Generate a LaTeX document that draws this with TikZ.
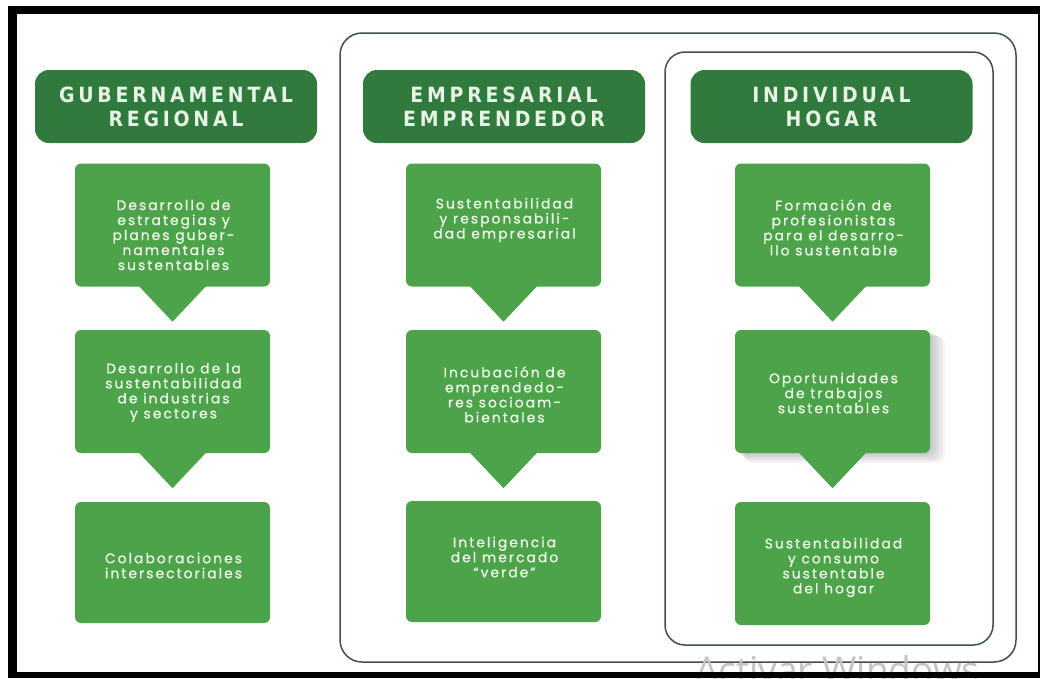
\documentclass[tikz,border=0pt]{standalone}
\usepackage{fontspec}
\setmainfont{Poppins}
\newfontfamily\headfont[LetterSpace=18]{DejaVu Sans Condensed Bold}
\newfontfamily\bodyfont[LetterSpace=15, FakeBold=1]{Poppins}
\newfontfamily\wmfont{Open Sans}
\usetikzlibrary{calc}
\definecolor{hdgreen}{RGB}{47,122,60}
\definecolor{cardgreen}{RGB}{76,163,74}
\definecolor{hdtext}{RGB}{232,243,230}
\definecolor{cardtext}{RGB}{236,247,232}
\definecolor{framecol}{RGB}{62,82,68}
\definecolor{wmgray}{RGB}{196,196,196}
\begin{document}
\begin{tikzpicture}[x=1pt,y=-1pt,
  header/.style={fill=hdgreen, rounded corners=14pt, minimum width=282pt, minimum height=73pt,
    inner sep=0pt, text=hdtext, align=center, font=\headfont\fontsize{21}{24}\selectfont},
  card/.style={fill=cardgreen, rounded corners=6pt, minimum width=195pt, minimum height=123pt, inner sep=0pt},
  cardtext/.style={text=cardtext, align=center, font=\bodyfont\fontsize{13.8}{15}\selectfont, inner sep=0pt},
  pointer/.style={fill=cardgreen},
  frameline/.style={draw=framecol, line width=1.5pt}]
\useasboundingbox (0,0) rectangle (1040,678);
\fill[white] (0,0) rectangle (1040,678);

% frames
\draw[frameline, rounded corners=22pt] (340,33) rectangle (1016,662);
\draw[frameline, rounded corners=20pt] (665,52) rectangle (993,645);

% headers
\node[header] (h1) at (176,106.5) {GUBERNAMENTAL\\REGIONAL};
\node[header] (h2) at (504,106.5) {EMPRESARIAL\\EMPRENDEDOR};
\node[header] (h3) at (831.5,106.5) {INDIVIDUAL\\HOGAR};

% shadow for right middle card
\foreach \s in {2,4,6,8,10} {
  \fill[black, opacity=0.045, rounded corners=8pt] (735+\s,330+\s*0.6) rectangle (930+\s*1.5,453+\s);
}

% cards
\node[card] (a1) at (172.5,225) {};
\node[card] (a2) at (172.5,391.5) {};
\node[card, minimum height=121pt] (a3) at (172.5,562.5) {};
\node[card] (b1) at (503.5,225) {};
\node[card] (b2) at (503.5,391.5) {};
\node[card, minimum height=121pt] (b3) at (503.5,561.5) {};
\node[card] (c1) at (832.5,225) {};
\node[card] (c2) at (832.5,391.5) {};
\node[card] (c3) at (832.5,563.5) {};

% pointers
\foreach \n in {a1,a2,b1,b2,c1,c2} {
  \fill[pointer] ([xshift=-34pt,yshift=1pt]\n.south) -- ([xshift=34pt,yshift=1pt]\n.south) -- ([yshift=-35pt]\n.south) -- cycle;
}

% texts
\node[cardtext] (ta1) at (173.5,235) {Desarrollo de\\estrategias y\\planes guber-\\namentales\\sustentables};
\node[cardtext] (ta2) at (173.5,392.5) {Desarrollo de la\\sustentabilidad\\de industrias\\y sectores};
\node[cardtext] (ta3) at (173.5,565.5) {Colaboraciones\\intersectoriales};
\node[cardtext] (tb1) at (504.5,220) {Sustentabilidad\\y responsabili-\\dad empresarial};
\node[cardtext] (tb2) at (504.5,394.5) {Incubación de\\emprendedo-\\res socioam-\\bientales};
\node[cardtext] (tb3) at (504.5,557) {Inteligencia\\del mercado\\“verde”};
\node[cardtext] (tc1) at (833.5,227.5) {Formación de\\profesionistas\\para el desarro-\\llo sustentable};
\node[cardtext] (tc2) at (833.5,393) {Oportunidades\\de trabajos\\sustentables};
\node[cardtext] (tc3) at (833.5,567.5) {Sustentabilidad\\y consumo\\sustentable\\del hogar};

% watermark
\node[anchor=base west, inner sep=0pt, text=wmgray, font=\wmfont\fontsize{37}{37}\selectfont] (wm) at (695,683) {Activar Windows};

% black border
\fill[black] (8,6) rectangle (1040,14);
\fill[black] (8,6) rectangle (17,678);
\fill[black] (8,672) rectangle (1040,678);
\fill[black] (1038,6) rectangle (1040,678);
\end{tikzpicture}
\end{document}
